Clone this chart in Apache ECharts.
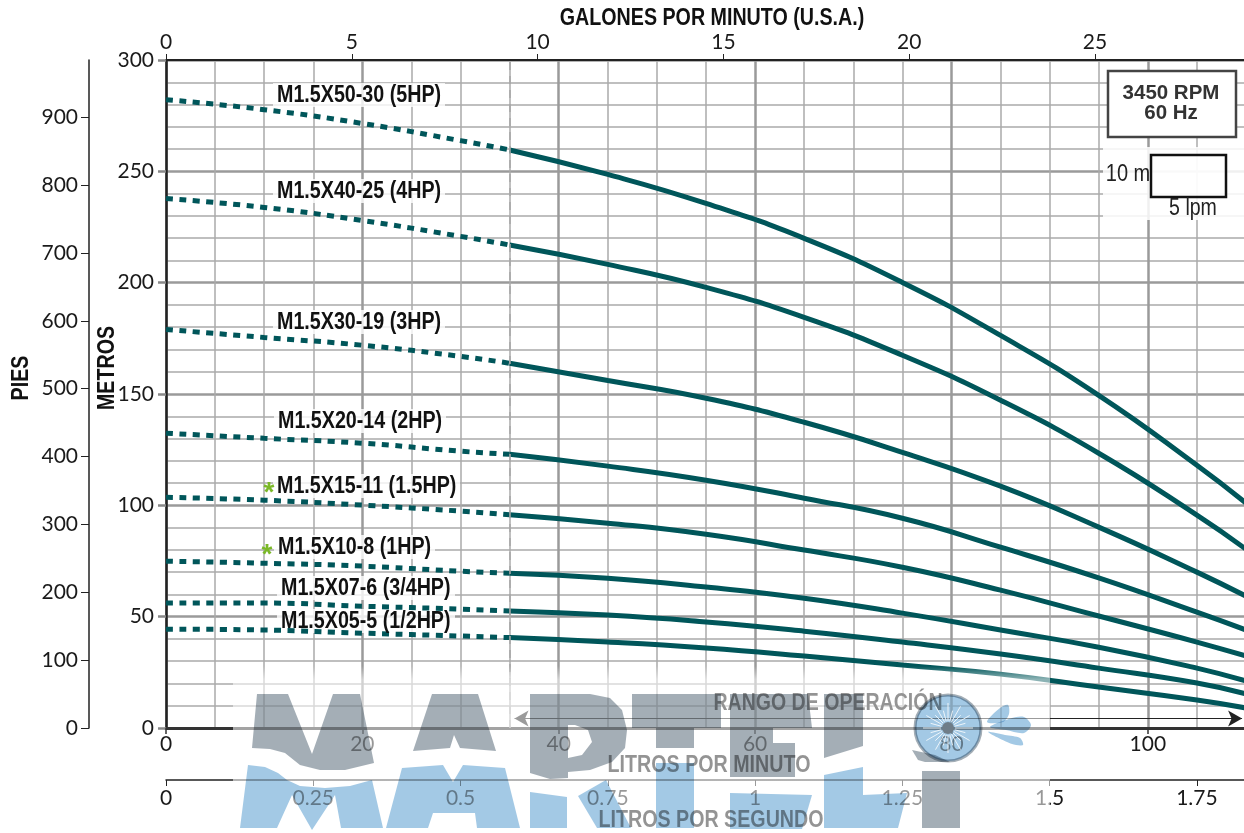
<!DOCTYPE html>
<html>
<head>
<meta charset="utf-8">
<title>Curvas M1.5</title>
<style>
  html, body { margin: 0; padding: 0; background: #fff; overflow: hidden; }
  #chart { width: 1244px; height: 833px; }
</style>
<script src="https://cdn.jsdelivr.net/npm/echarts@6/dist/echarts.min.js"></script>
</head>
<body>
<div id="chart"></div>
<script>
// caudal en litros por minuto
var flowLpm = [0, 10, 20, 30, 35, 45, 55, 65, 75, 85, 95, 105, 110]
// altura en metros
var head5hp = [282.2, 277.7, 271.5, 263.8, 259.6, 248.6, 235.6, 219.9, 200.1, 176.3, 149.4, 118, 101]
var head4hp = [237.8, 233.8, 227.9, 220.8, 216.9, 208.2, 197.9, 184.4, 167.4, 147.2, 123.4, 95.6, 80.3]
var head3hp = [179, 175.4, 171.9, 166.9, 163.8, 156.1, 148.1, 137.3, 123.8, 108.6, 90.2, 70, 59.2]
var head2hp = [132.4, 130.1, 127.9, 124.3, 122.9, 117.6, 111.3, 103.2, 94.2, 81.2, 67.4, 52, 44]
var head15hp = [103.6, 102.3, 100.1, 97.4, 95.8, 92, 87, 79.9, 72.2, 61.9, 50.3, 38.6, 32.3]
var head1hp = [74.9, 74, 72.7, 70.4, 69.5, 67.3, 63.3, 58.3, 51.6, 44, 36.3, 26.9, 21.1]
var head34hp = [56.1, 56.1, 54.7, 53.4, 52.5, 50.7, 47.6, 43.5, 38.6, 33.2, 26.9, 20.2, 15.3]
var head12hp = [44.4, 44, 42.6, 41.3, 40.6, 38.6, 35.9, 32.3, 28.3, 24.2, 18.4, 12.6, 9]
var curves = [head5hp, head4hp, head3hp, head2hp, head15hp, head1hp, head34hp, head12hp]
var curveNames = ['M1.5X50-30 (5HP)', 'M1.5X40-25 (4HP)', 'M1.5X30-19 (3HP)', 'M1.5X20-14 (2HP)', 'M1.5X15-11 (1.5HP)', 'M1.5X10-8 (1HP)', 'M1.5X07-6 (3/4HP)', 'M1.5X05-5 (1/2HP)']

// ticks de los ejes
var lpmTicks = [0, 20, 40, 60, 80, 100]
var gpmTicks = [0, 5, 10, 15, 20, 25]
var lpsTicks = [0, 0.25, 0.5, 0.75, 1, 1.25, 1.5, 1.75]
var piesTicks = [0, 100, 200, 300, 400, 500, 600, 700, 800, 900]
var dashEnd = 4 // indice de flowLpm donde termina el tramo punteado
var rangeStart = 35.5
var rangeEnd = 109.6
var rangeHead = 4.3

// donde va cada rotulo de curva
var labelLeft = [277, 277, 277, 278, 277, 278, 281, 281]
var labelMid = [95, 191, 322, 421, 486, 547, 588, 621]
var labelWidth = [164, 164, 164, 164, 179, 153, 170, 170]

var tickFont = { fontFamily: 'Lato', fontSize: 21, color: '#1a1a1a' }
var teal = '#00565a'
var gridMinor = { color: '#aaaaaa', width: 1.5 }
var gridMajor = { color: '#9a9a9a', width: 2.5 }

var series = []
curves.forEach(function(head, i) {
  var points = flowLpm.map(function(q, k) { return [q, head[k]] })
  series.push({
    name: curveNames[i] + ' punteado',
    type: 'line',
    data: points.slice(0, dashEnd + 1),
    smooth: 0.5,
    showSymbol: false,
    silent: true,
    lineStyle: { color: teal, width: 5, type: [7, 6.5], cap: 'butt' }
  })
  series.push({
    name: curveNames[i],
    type: 'line',
    data: points.slice(dashEnd),
    smooth: 0.5,
    showSymbol: false,
    silent: true,
    lineStyle: { color: teal, width: 5, cap: 'butt' }
  })
})
// limite punteado y flecha del rango de operacion
series[0].markLine = {
  silent: true,
  symbol: 'none',
  label: { show: false },
  lineStyle: { color: '#a8a8a8', width: 1.5, type: [8, 6] },
  data: [{ xAxis: flowLpm[dashEnd] }]
}
series[1].markLine = {
  silent: true,
  symbol: 'arrow',
  symbolSize: [12, 14],
  label: { show: false },
  lineStyle: { color: '#222', width: 1.2, type: 'solid' },
  data: [[{ coord: [rangeStart, rangeHead] }, { coord: [rangeEnd, rangeHead] }]]
}

// logo de fondo, trazado a mano
var logoGray = [
  [[257, 694], [288, 694], [312, 754], [333, 694], [360, 694], [374, 763], [345, 770], [320, 770], [300, 765], [285, 753], [270, 749], [252, 748]],
  [[432, 694], [478, 694], [496, 751], [460, 748], [454, 735], [450, 748], [413, 751]],
  [[530, 694], [590, 694], [610, 698], [622, 710], [627, 730], [625, 748], [612, 762], [590, 770], [568, 772], [568, 778], [550, 779], [530, 773], [530, 725], [568, 725], [568, 758], [582, 755], [592, 742], [588, 730], [575, 725], [530, 725]],
  [[632, 694], [721, 694], [721, 728], [694, 728], [694, 748], [656, 748], [656, 728], [632, 728]],
  [[730, 694], [808, 694], [812, 728], [773, 728], [773, 743], [795, 743], [795, 777], [730, 777]],
  [[824, 694], [863, 694], [863, 746], [824, 758]],
  [[922, 771], [960, 771], [960, 828], [922, 828]]
]
var logoBlue = [
  [[248, 765], [265, 767], [278, 773], [287, 780], [300, 786], [325, 788], [350, 786], [372, 780], [383, 828], [341, 828], [335, 795], [312, 830], [292, 795], [277, 828], [240, 828]],
  [[402, 768], [443, 765], [453, 782], [463, 765], [505, 768], [520, 828], [477, 828], [475, 813], [433, 813], [428, 828], [386, 828]],
  [[530, 792], [567, 797], [567, 828], [530, 828]],
  [[578, 796], [606, 780], [631, 828], [597, 828]],
  [[656, 763], [694, 763], [694, 828], [656, 828]],
  [[730, 793], [812, 795], [802, 829], [730, 829]],
  [[824, 775], [863, 767], [863, 795], [907, 793], [898, 828], [824, 828]]
]
var logoDrops = [
  [[987, 722], [1000, 708], [1008, 705], [1009, 714], [1003, 722]],
  [[990, 727], [1012, 718], [1024, 717], [1031, 725], [1024, 733], [1006, 730]],
  [[988, 732], [1005, 735], [1020, 738], [1023, 745], [1012, 744]]
]

var graphics = []
function poly(points, fill) {
  return { type: 'polygon', silent: true, z: 60, shape: { points: points }, style: { fill: fill, blend: 'multiply' } }
}
function text(str, x, y, font, fill, z, sx, extra) {
  var el = {
    type: 'text', silent: true, z: z, x: x, y: y, scaleX: sx,
    style: { text: str, font: font, fill: fill, align: 'center', verticalAlign: 'middle' }
  }
  return Object.assign(el, extra || {})
}
var labelFont = 'bold 24px "Liberation Sans"'
var titleFont = 'bold 23px "Liberation Sans"'
var plainFont = '23px "Liberation Sans"'

curveNames.forEach(function(name, i) {
  graphics.push({
    type: 'rect', silent: true, z: 1,
    shape: { x: labelLeft[i] - 4, y: labelMid[i] - 12, width: labelWidth[i] + 8, height: 24 },
    style: { fill: 'rgba(255,255,255,0.8)' }
  })
  var el = text(name, labelLeft[i], labelMid[i], labelFont, '#111', 10, 0.82)
  el.style.align = 'left'
  graphics.push(el)
})
graphics.push(text('*', 269, 493, 'bold 28px "Liberation Sans"', '#7ab827', 10, 1))
graphics.push(text('*', 267, 555, 'bold 28px "Liberation Sans"', '#7ab827', 10, 1))

graphics.push(text('GALONES POR MINUTO (U.S.A.)', 712, 19, titleFont, '#111', 10, 0.855))
graphics.push(text('LITROS POR MINUTO', 709, 766, titleFont, '#111', 10, 0.855))
graphics.push(text('LITROS POR SEGUNDO', 711, 821, titleFont, '#111', 10, 0.855))
graphics.push(text('PIES', 22, 378, titleFont, '#111', 10, 0.855, { rotation: Math.PI / 2 }))
graphics.push(text('METROS', 108, 368, titleFont, '#111', 10, 0.855, { rotation: Math.PI / 2 }))
graphics.push(text('RANGO DE OPERACIÓN', 828, 704, titleFont, '#111', 10, 0.85))

// recuadro RPM y escala
graphics.push({
  type: 'rect', silent: true, z: 20,
  shape: { x: 1103, y: 147, width: 141, height: 73 },
  style: { fill: 'rgba(255,255,255,0.85)' }
})
graphics.push({
  type: 'rect', silent: true, z: 21,
  shape: { x: 1108, y: 71, width: 128, height: 66 },
  style: { fill: '#fff', stroke: '#444', lineWidth: 2.5 }
})
graphics.push(text('3450 RPM', 1171, 93, 'bold 20.5px "Liberation Sans"', '#333', 22, 1))
graphics.push(text('60 Hz', 1171, 113, 'bold 20.5px "Liberation Sans"', '#333', 22, 1))
graphics.push({
  type: 'rect', silent: true, z: 21,
  shape: { x: 1151, y: 155, width: 75, height: 42 },
  style: { fill: 'rgba(255,255,255,0.6)', stroke: '#111', lineWidth: 2.5 }
})
graphics.push(text('10 m', 1128, 175, plainFont, '#222', 22, 0.87))
graphics.push(text('5 lpm', 1193, 209, plainFont, '#222', 22, 0.85))

// velo blanco bajo el logo
graphics.push({
  type: 'rect', silent: true, z: 50,
  shape: { x: 233, y: 666, width: 817, height: 167 },
  style: {
    fill: {
      type: 'linear', x: 0, y: 0, x2: 0, y2: 1,
      colorStops: [
        { offset: 0, color: 'rgba(255,255,255,0)' },
        { offset: 0.08, color: 'rgba(255,255,255,0.55)' },
        { offset: 1, color: 'rgba(255,255,255,0.55)' }
      ]
    }
  }
})
logoGray.forEach(function(p) { graphics.push(poly(p, '#a4aeb6')) })
logoBlue.forEach(function(p) { graphics.push(poly(p, '#a3c9e5')) })
logoDrops.forEach(function(p) {
  var d = poly(p, '#a3c9e5')
  d.shape.smooth = 0.3
  graphics.push(d)
})
graphics.push(poly([[912, 750], [935, 755], [950, 762], [925, 762], [918, 760]], '#a4aeb6'))
graphics.push({
  type: 'circle', silent: true, z: 60,
  shape: { cx: 948, cy: 728, r: 33 },
  style: { fill: '#a3c9e5', stroke: '#a4aeb6', lineWidth: 3, blend: 'multiply' }
})
for (var a = 0; a < 24; a++) {
  var ang = a * Math.PI / 12
  graphics.push({
    type: 'line', silent: true, z: 61,
    shape: {
      x1: 948 + 7 * Math.cos(ang), y1: 728 + 7 * Math.sin(ang),
      x2: 948 + (a % 2 ? 18 : 25) * Math.cos(ang), y2: 728 + (a % 2 ? 18 : 25) * Math.sin(ang)
    },
    style: { stroke: 'rgba(255,255,255,0.8)', lineWidth: 1 }
  })
}
graphics.push({
  type: 'circle', silent: true, z: 62,
  shape: { cx: 948, cy: 728, r: 6 },
  style: { fill: '#6f7d88' }
})

var chart = echarts.init(document.getElementById('chart'), null, { renderer: 'canvas' })
chart.setOption({
  animation: false,
  backgroundColor: '#fff',
  grid: { left: 166, top: 60, width: 1080, height: 668, outerBoundsMode: 'none' },
  xAxis: [{
    type: 'value',
    position: 'bottom',
    min: 0,
    max: 110,
    interval: 20,
    axisLine: { show: true, onZero: false, lineStyle: { color: '#333', width: 3 } },
    axisTick: { show: true, length: 6, customValues: lpmTicks, lineStyle: { color: '#333', width: 1.5 } },
    axisLabel: Object.assign({ customValues: lpmTicks, margin: 6 }, tickFont),
    splitLine: { show: true, lineStyle: gridMajor },
    minorTick: { show: false, splitNumber: 4 },
    minorSplitLine: { show: true, lineStyle: gridMinor }
  }, {
    type: 'value',
    position: 'top',
    min: 0,
    max: 110 / 3.785,
    axisLine: { show: true, onZero: false, lineStyle: { color: '#222', width: 2 } },
    axisTick: { show: true, length: 6, customValues: gpmTicks, lineStyle: { color: '#222', width: 1 } },
    axisLabel: Object.assign({ customValues: gpmTicks, margin: 7 }, tickFont),
    splitLine: { show: false }
  }, {
    type: 'value',
    position: 'bottom',
    offset: 52,
    min: 0,
    max: 110 / 60,
    axisLine: { show: true, onZero: false, lineStyle: { color: '#222', width: 1.5 } },
    axisTick: { show: true, length: 6, customValues: lpsTicks, lineStyle: { color: '#222', width: 1 } },
    axisLabel: Object.assign({ customValues: lpsTicks, margin: 8 }, tickFont),
    splitLine: { show: false }
  }],
  yAxis: [{
    type: 'value',
    min: 0,
    max: 300,
    interval: 50,
    axisLine: { show: true, onZero: false, lineStyle: { color: '#222', width: 2.5 } },
    axisTick: { show: true, length: 8, lineStyle: { color: '#888', width: 2.5 } },
    axisLabel: Object.assign({ margin: 12 }, tickFont),
    splitLine: { show: true, lineStyle: gridMajor },
    minorTick: { show: false, splitNumber: 5 },
    minorSplitLine: { show: true, lineStyle: gridMinor }
  }, {
    type: 'value',
    position: 'left',
    offset: 77,
    min: 0,
    max: 300 / 0.3048,
    axisLine: { show: true, onZero: false, lineStyle: { color: '#222', width: 1.5 } },
    axisTick: { show: true, length: 8, customValues: piesTicks, lineStyle: { color: '#222', width: 1 } },
    axisLabel: Object.assign({ customValues: piesTicks, margin: 11 }, tickFont),
    splitLine: { show: false }
  }],
  graphic: { elements: graphics },
  series: series
})
</script>
</body>
</html>
